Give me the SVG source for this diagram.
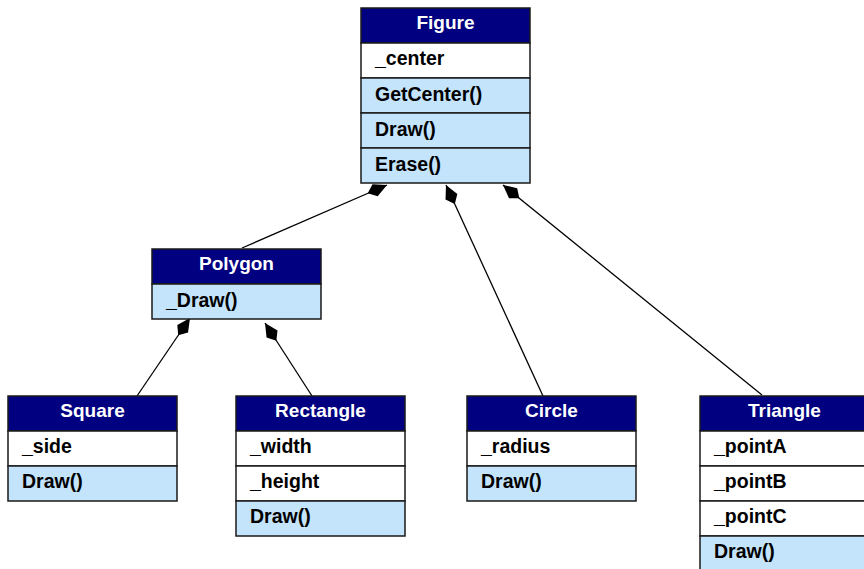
<svg xmlns="http://www.w3.org/2000/svg" width="864" height="569" viewBox="0 0 864 569">
<style>
.hd{fill:#000080;stroke:#1a1a1a;stroke-width:1.5}
.at{fill:#ffffff;stroke:#1a1a1a;stroke-width:1.5}
.op{fill:#c4e4fc;stroke:#1a1a1a;stroke-width:1.5}
.ht{font-family:"Liberation Sans",Arial,sans-serif;font-weight:bold;font-size:19px;fill:#ffffff;text-anchor:middle}
.rt{font-family:"Liberation Sans",Arial,sans-serif;font-weight:bold;font-size:19.5px;fill:#000000}
.cn{stroke:#000;stroke-width:1.3;fill:none;marker-end:url(#dia)}
</style>
<defs>
<marker id="dia" markerUnits="userSpaceOnUse" viewBox="0 -7 22 14" refX="21" refY="0" markerWidth="22" markerHeight="14" orient="auto">
<path d="M0,0 L8,-6.5 L21,0 L8,6.5 Z" fill="#000"/>
</marker>
</defs>
<rect width="864" height="569" fill="#fff"/>
<g id="connectors">
<line class="cn" x1="242" y1="248" x2="387" y2="185"/>
<line class="cn" x1="543" y1="396" x2="446" y2="185"/>
<line class="cn" x1="762" y1="395" x2="503" y2="185"/>
<line class="cn" x1="137" y1="396" x2="190" y2="318"/>
<line class="cn" x1="312" y1="396" x2="265" y2="323"/>
</g>
<g id="Figure">
<rect class="hd" x="361" y="8" width="169" height="35"/>
<rect class="at" x="361" y="43" width="169" height="35"/>
<rect class="op" x="361" y="78" width="169" height="35"/>
<rect class="op" x="361" y="113" width="169" height="35"/>
<rect class="op" x="361" y="148" width="169" height="35"/>
<text class="ht" x="445.5" y="28.5">Figure</text>
<text class="rt" x="375" y="65">_center</text>
<text class="rt" x="375" y="101">GetCenter()</text>
<text class="rt" x="375" y="136">Draw()</text>
<text class="rt" x="375" y="171">Erase()</text>
</g>
<g id="Polygon">
<rect class="hd" x="152" y="249" width="169" height="35"/>
<rect class="op" x="152" y="284" width="169" height="35"/>
<text class="ht" x="236.5" y="269.5">Polygon</text>
<text class="rt" x="166" y="307">_Draw()</text>
</g>
<g id="Square">
<rect class="hd" x="8" y="396" width="169" height="35"/>
<rect class="at" x="8" y="431" width="169" height="35"/>
<rect class="op" x="8" y="466" width="169" height="35"/>
<text class="ht" x="92.5" y="416.5">Square</text>
<text class="rt" x="22" y="453">_side</text>
<text class="rt" x="22" y="488">Draw()</text>
</g>
<g id="Rectangle">
<rect class="hd" x="236" y="396" width="169" height="35"/>
<rect class="at" x="236" y="431" width="169" height="35"/>
<rect class="at" x="236" y="466" width="169" height="35"/>
<rect class="op" x="236" y="501" width="169" height="35"/>
<text class="ht" x="320.5" y="416.5">Rectangle</text>
<text class="rt" x="250" y="453">_width</text>
<text class="rt" x="250" y="488">_height</text>
<text class="rt" x="250" y="523">Draw()</text>
</g>
<g id="Circle">
<rect class="hd" x="467" y="396" width="169" height="35"/>
<rect class="at" x="467" y="431" width="169" height="35"/>
<rect class="op" x="467" y="466" width="169" height="35"/>
<text class="ht" x="551.5" y="416.5">Circle</text>
<text class="rt" x="481" y="453">_radius</text>
<text class="rt" x="481" y="488">Draw()</text>
</g>
<g id="Triangle">
<rect class="hd" x="700" y="396" width="169" height="35"/>
<rect class="at" x="700" y="431" width="169" height="35"/>
<rect class="at" x="700" y="466" width="169" height="35"/>
<rect class="at" x="700" y="501" width="169" height="35"/>
<rect class="op" x="700" y="536" width="169" height="35"/>
<text class="ht" x="784.5" y="416.5">Triangle</text>
<text class="rt" x="714" y="453">_pointA</text>
<text class="rt" x="714" y="488">_pointB</text>
<text class="rt" x="714" y="523">_pointC</text>
<text class="rt" x="714" y="558">Draw()</text>
</g>
</svg>
